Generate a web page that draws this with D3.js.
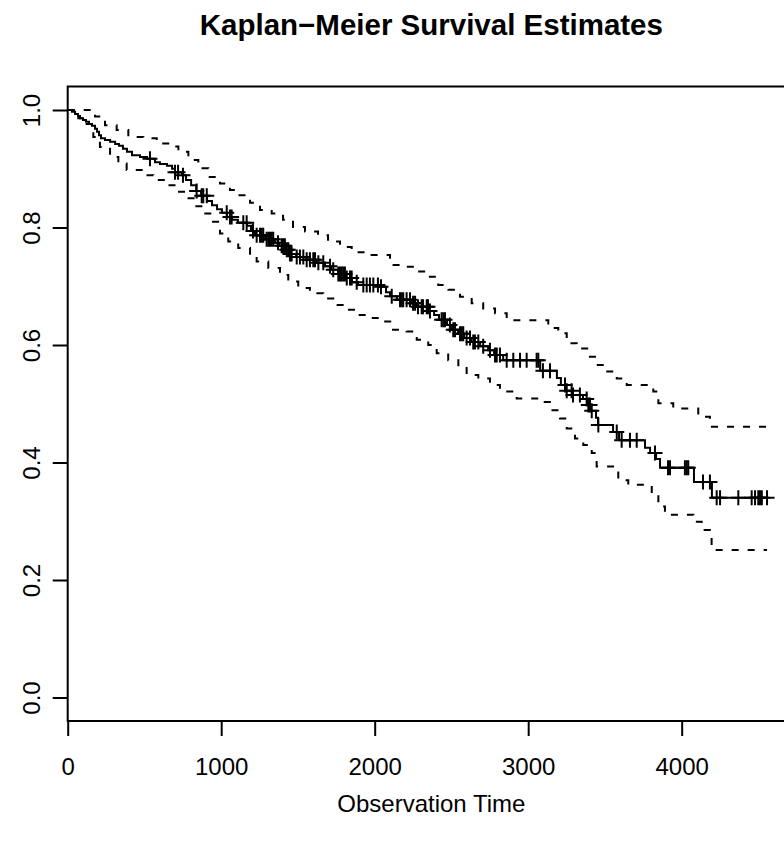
<!DOCTYPE html>
<html>
<head>
<meta charset="utf-8">
<script src="https://cdn.jsdelivr.net/npm/d3@7"></script>
<style>
  body { margin: 0; background: #fff; }
  svg text { font-family: 'Liberation Sans', Arial, sans-serif; fill: #000; }
</style>
</head>
<body>
<div id="chart"></div>
<script>
'use strict';

// Kaplan-Meier estimate: times where the curve drops and the value after the drop
const event_times = [28, 48, 67, 80, 100, 119, 139, 158, 178, 191, 204, 217, 243, 276, 309, 334, 360, 386, 419,
  471, 517, 569, 601, 647, 680, 699, 745, 771, 804, 837, 869, 908, 940, 973, 1005, 1038, 1071, 1109, 1168,
  1194, 1220, 1286, 1351, 1377, 1416, 1448, 1488, 1553, 1618, 1676, 1715, 1761, 1813, 1852, 1891, 2022,
  2074, 2100, 2145, 2236, 2269, 2354, 2387, 2419, 2471, 2504, 2543, 2582, 2628, 2687, 2739, 2778, 2837,
  3078, 3187, 3213, 3246, 3292, 3357, 3383, 3409, 3442, 3455, 3553, 3592, 3761, 3794, 3833, 3859, 4080, 4197]
const event_surv = [0.997, 0.993, 0.990, 0.986, 0.983, 0.980, 0.976, 0.973, 0.968, 0.963, 0.957, 0.952, 0.949,
  0.946, 0.942, 0.939, 0.934, 0.929, 0.923, 0.920, 0.917, 0.911, 0.908, 0.905, 0.900, 0.894, 0.889, 0.881,
  0.872, 0.862, 0.854, 0.845, 0.838, 0.831, 0.825, 0.818, 0.813, 0.808, 0.803, 0.794, 0.787, 0.780, 0.774,
  0.769, 0.762, 0.755, 0.750, 0.745, 0.740, 0.734, 0.728, 0.721, 0.714, 0.707, 0.702, 0.699, 0.690, 0.683,
  0.677, 0.671, 0.665, 0.658, 0.651, 0.643, 0.634, 0.626, 0.619, 0.612, 0.605, 0.598, 0.591, 0.583, 0.574,
  0.556, 0.544, 0.532, 0.522, 0.515, 0.508, 0.498, 0.488, 0.476, 0.464, 0.452, 0.438, 0.425, 0.416, 0.406,
  0.391, 0.367, 0.340]

// 95% confidence limits (step functions)
const upper_times = [178, 243, 319, 395, 493, 580, 655, 721, 786, 851, 916, 992, 1057, 1111, 1188, 1253, 1329,
  1403, 1468, 1546, 1631, 1696, 1774, 1850, 1937, 2100, 2197, 2274, 2349, 2414, 2480, 2556, 2632, 2707, 2784,
  2860, 3131, 3196, 3251, 3316, 3392, 3435, 3500, 3577, 3642, 3815, 3848, 3945, 4108, 4184, 4197]
const upper_surv = [0.989, 0.974, 0.966, 0.954, 0.952, 0.943, 0.938, 0.929, 0.915, 0.901, 0.886, 0.875, 0.864,
  0.855, 0.842, 0.830, 0.824, 0.813, 0.801, 0.793, 0.787, 0.776, 0.767, 0.758, 0.753, 0.736, 0.733, 0.725,
  0.716, 0.702, 0.694, 0.682, 0.671, 0.662, 0.654, 0.642, 0.629, 0.620, 0.603, 0.594, 0.580, 0.566, 0.555,
  0.543, 0.532, 0.521, 0.501, 0.492, 0.478, 0.469, 0.461]
const lower_times = [69, 113, 167, 210, 276, 330, 384, 482, 558, 634, 710, 775, 829, 883, 938, 992, 1046, 1111,
  1188, 1231, 1307, 1383, 1437, 1502, 1578, 1665, 1730, 1806, 1872, 1969, 2056, 2111, 2208, 2274, 2349, 2404,
  2479, 2545, 2599, 2675, 2751, 2816, 2925, 3098, 3142, 3207, 3251, 3305, 3359, 3414, 3446, 3587, 3652, 3805,
  3848, 3891, 4076, 4130, 4184, 4195]
const lower_surv = [0.986, 0.976, 0.954, 0.937, 0.920, 0.909, 0.898, 0.889, 0.881, 0.872, 0.861, 0.850, 0.836,
  0.824, 0.810, 0.790, 0.776, 0.765, 0.753, 0.742, 0.731, 0.719, 0.708, 0.697, 0.688, 0.679, 0.668, 0.660,
  0.651, 0.646, 0.640, 0.626, 0.623, 0.609, 0.600, 0.586, 0.574, 0.563, 0.549, 0.543, 0.532, 0.521, 0.509,
  0.503, 0.489, 0.475, 0.458, 0.441, 0.430, 0.416, 0.393, 0.370, 0.362, 0.345, 0.325, 0.311, 0.299, 0.285,
  0.274, 0.251]

// censored observations
const censor_times = [536, 699, 719, 751, 840, 873, 883, 906, 1036, 1057, 1068, 1144, 1166, 1207, 1231, 1253,
  1264, 1274, 1296, 1307, 1318, 1329, 1339, 1370, 1394, 1403, 1415, 1427, 1437, 1448, 1459, 1492, 1513, 1535,
  1557, 1578, 1600, 1611, 1633, 1665, 1709, 1730, 1763, 1774, 1785, 1795, 1806, 1818, 1839, 1850, 1883, 1926,
  1948, 1969, 1991, 2021, 2041, 2111, 2165, 2176, 2186, 2208, 2230, 2250, 2263, 2282, 2306, 2315, 2339, 2347,
  2360, 2436, 2447, 2458, 2490, 2512, 2523, 2556, 2567, 2577, 2599, 2621, 2642, 2653, 2675, 2707, 2751, 2784,
  2795, 2816, 2860, 2903, 2947, 2990, 3055, 3066, 3096, 3142, 3240, 3251, 3283, 3292, 3337, 3381, 3392, 3403,
  3414, 3457, 3577, 3609, 3663, 3707, 3826, 3911, 3924, 4021, 4033, 4043, 4139, 4184, 4228, 4250, 4369, 4456,
  4478, 4499, 4510, 4522, 4556]

const last_time = 4556
const x_ticks = [0, 1000, 2000, 3000, 4000]
const y_ticks = [0, 0.2, 0.4, 0.6, 0.8, 1.0]

const km = {
  width: 784,
  height: 841,
  left: 67.7,
  right: 795,
  top: 86.5,
  bottom: 721,
  title: 'Kaplan\u2212Meier Survival Estimates',
  x_title: 'Observation Time'
}

const svg = d3.select('#chart')
  .append('svg')
  .attr('width', km.width)
  .attr('height', km.height)

// scales: x starts at 0 and is padded 4% on the right, y padded 4% both ends
const xScale = d3.scaleLinear()
  .domain([0, last_time * 1.04])
  .range([km.left, km.right])
const yScale = d3.scaleLinear()
  .domain([-0.04, 1.04])
  .range([km.bottom, km.top])

// build step data, starting at (0, 1) and running out to the last time
const to_steps = function(times, surv){
  const pts = [[0, 1]]
  times.forEach((t, i) => pts.push([t, surv[i]]))
  pts.push([last_time, surv[surv.length - 1]])
  return pts
}
const surv_at = function(t){
  let s = 1
  event_times.forEach((e, i) => { if(e <= t) s = event_surv[i] })
  return s
}

const step_line = d3.line()
  .x(d => xScale(d[0]))
  .y(d => yScale(d[1]))
  .curve(d3.curveStepAfter)

// frame
svg.append('rect')
  .attr('x', km.left)
  .attr('y', km.top)
  .attr('width', km.right - km.left)
  .attr('height', km.bottom - km.top)
  .attr('fill', 'none')
  .attr('stroke', '#000')
  .attr('stroke-width', 2)

// x axis
const xAxis = d3.axisBottom(xScale)
  .tickValues(x_ticks)
  .tickFormat(d3.format('d'))
  .tickSize(15)
  .tickPadding(22)
const xAxisGroup = svg.append('g')
  .attr('transform', `translate(0, ${km.bottom})`)
  .call(xAxis)
xAxisGroup.select('.domain').remove()
xAxisGroup.selectAll('line').attr('stroke-width', 2)
xAxisGroup.selectAll('text')
  .style('font-size', '24px')
  .style('font-family', "'Liberation Sans', Arial, sans-serif")

// y axis, labels rotated as in base R (tick groups are already translated)
const yAxis = d3.axisLeft(yScale)
  .tickValues(y_ticks)
  .tickFormat(d3.format('.1f'))
  .tickSize(15)
const yAxisGroup = svg.append('g')
  .attr('transform', `translate(${km.left}, 0)`)
  .call(yAxis)
yAxisGroup.select('.domain').remove()
yAxisGroup.selectAll('line').attr('stroke-width', 2)
yAxisGroup.selectAll('text')
  .attr('x', null)
  .attr('dy', null)
  .attr('transform', 'translate(-28, 0) rotate(-90)')
  .attr('text-anchor', 'middle')
  .style('font-size', '24px')
  .style('font-family', "'Liberation Sans', Arial, sans-serif")

// titles
svg.append('text')
  .attr('x', (km.left + km.right) / 2)
  .attr('y', 35)
  .attr('text-anchor', 'middle')
  .style('font-weight', 'bold')
  .style('font-size', '29.5px')
  .text(km.title)

svg.append('text')
  .attr('x', (km.left + km.right) / 2)
  .attr('y', 812)
  .attr('text-anchor', 'middle')
  .style('font-size', '24px')
  .text(km.x_title)

// confidence limits
const bands = [to_steps(upper_times, upper_surv), to_steps(lower_times, lower_surv)]
svg.append('g')
  .selectAll('path')
  .data(bands)
  .join('path')
  .attr('d', step_line)
  .attr('fill', 'none')
  .attr('stroke', '#000')
  .attr('stroke-width', 2)
  .attr('stroke-dasharray', '7,9')

// survival curve
svg.append('path')
  .datum(to_steps(event_times, event_surv))
  .attr('d', step_line)
  .attr('fill', 'none')
  .attr('stroke', '#000')
  .attr('stroke-width', 2)

// censor marks
const mark = 7.5
svg.append('g')
  .selectAll('path')
  .data(censor_times)
  .join('path')
  .attr('d', t => {
    const cx = xScale(t), cy = yScale(surv_at(t))
    return `M${cx - mark},${cy}H${cx + mark}M${cx},${cy - mark}V${cy + mark}`
  })
  .attr('fill', 'none')
  .attr('stroke', '#000')
  .attr('stroke-width', 2)
</script>
</body>
</html>
